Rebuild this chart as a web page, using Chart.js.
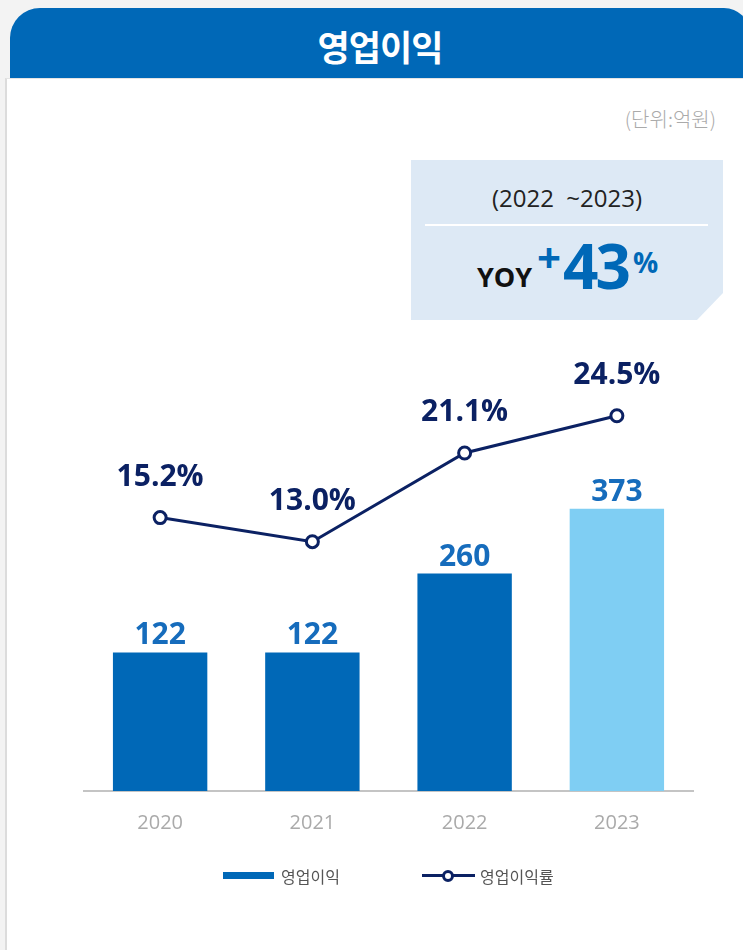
<!DOCTYPE html>
<html>
<head>
<meta charset="utf-8">
<script src="https://cdn.jsdelivr.net/npm/chart.js@4.4.0/dist/chart.umd.min.js"></script>
<style>
  html, body { margin: 0; padding: 0; }
  body {
    width: 743px; height: 950px; overflow: hidden; position: relative;
    background: #f3f3f3;
    font-family: "Open Sans", "Noto Sans CJK KR", sans-serif;
  }
  .header {
    position: absolute; left: 10px; top: 8px; width: 740px; height: 70px;
    background: #0068b7; border-radius: 30px 26px 0 0;
  }
  .header h1 {
    margin: 0; position: absolute; left: 0; width: 100%; top: 0; line-height: 76px;
    text-align: center; color: #fff; font-size: 35px; font-weight: 700;
    font-family: "Noto Sans CJK KR", sans-serif; letter-spacing: -1px;
  }
  .panel {
    position: absolute; left: 5px; top: 78px; width: 745px; height: 880px;
    background: #fff; border-left: 2px solid #dcdcdc; border-top: 1px solid #e4e4e4;
  }
  .unit {
    position: absolute; right: 27px; top: 104px; font-size: 20px; color: #aaa;
    font-family: "Noto Sans CJK KR", sans-serif; font-weight: 300;
  }
  .yoy {
    position: absolute; left: 411px; top: 160px; width: 312px; height: 160px;
    background: #dde9f5;
    clip-path: polygon(0 0, 100% 0, 100% 133px, 286px 100%, 0 100%);
  }
  .yoy .range {
    position: absolute; left: 0; width: 100%; top: 20px; text-align: center;
    font-size: 24px; color: #222; line-height: 36px;
  }
  .yoy .rule { position: absolute; left: 14px; width: 283px; top: 64px; height: 2px; background: #fff; }
  .yoy span { position: absolute; line-height: 1; font-weight: 700; }
  .legend { position: absolute; top: 864px; left: 0; width: 743px; height: 24px; font-size: 16px; color: #555; }
  .legend .item { position: absolute; top: 0; line-height: 24px; font-family: "Noto Sans CJK KR", sans-serif; }
  .sw-bar { position: absolute; top: 8px; width: 51px; height: 7px; background: #0068b7; }
  .sw-line { position: absolute; top: 10px; width: 53px; height: 3px; background: #0b2163; }
  .sw-dot { position: absolute; top: 6px; width: 6px; height: 6px; border: 3px solid #0b2163; background: #fff; border-radius: 50%; }
  #chartBox { position: absolute; left: 0; top: 330px; width: 743px; height: 540px; }
</style>
</head>
<body>
<div class="header"><h1>영업이익</h1></div>
<div class="panel"></div>
<div class="unit">(단위:억원)</div>

<div class="yoy">
  <div class="range">(2022&nbsp; ~2023)</div>
  <div class="rule"></div>
  <span style="left:66px; top:103px; font-size:27px; color:#111;">YOY</span>
  <span style="left:126px; top:76px; font-size:42px; color:#0068b7;">+</span>
  <span style="left:152px; top:74px; font-size:62px; color:#0068b7; letter-spacing:-3px;">43</span>
  <span style="left:222px; top:88px; font-size:28px; color:#0068b7;">%</span>
</div>

<div id="chartBox"><canvas id="profitChart" width="743" height="540"></canvas></div>

<div class="legend">
  <div class="sw-bar" style="left:223px;"></div>
  <div class="item" style="left:281px;">영업이익</div>
  <div class="sw-line" style="left:422px;"></div>
  <div class="sw-dot" style="left:442px;"></div>
  <div class="item" style="left:480px;">영업이익률</div>
</div>

<script>
    // data
    const years = ["2020", "2021", "2022", "2023"];
    const profit = [122, 122, 260, 373];
    const profitMargin = [15.2, 13.0, 21.1, 24.5];
    const barColors = ["#0068b7", "#0068b7", "#0068b7", "#7fcef3"];

    /*** Value labels above bars and points ***/
    const valueLabels = {
        id: "valueLabels",
        afterDatasetsDraw(chart) {
            const ctx = chart.ctx;
            ctx.save();
            ctx.textAlign = "center";
            ctx.textBaseline = "alphabetic";
            ctx.font = "bold 30px 'Open Sans'";

            ctx.fillStyle = "#166cbc";
            chart.getDatasetMeta(1).data.forEach((bar, i) => {
                ctx.fillText(String(profit[i]), bar.x, bar.y - 8);
            });

            ctx.fillStyle = "#0b2163";
            chart.getDatasetMeta(0).data.forEach((pt, i) => {
                ctx.fillText(profitMargin[i].toFixed(1) + "%", pt.x, pt.y - 32);
            });
            ctx.restore();
        }
    };

    new Chart(document.getElementById("profitChart"), {
        data: {
            labels: years,
            datasets: [
                {
                    type: "line",
                    label: "영업이익률",
                    data: profitMargin,
                    yAxisID: "y1",
                    order: 0,
                    borderColor: "#0b2163",
                    borderWidth: 3,
                    pointRadius: 6,
                    pointBorderWidth: 3,
                    pointBackgroundColor: "#fff",
                    pointBorderColor: "#0b2163",
                    tension: 0
                },
                {
                    type: "bar",
                    label: "영업이익",
                    data: profit,
                    yAxisID: "y",
                    order: 1,
                    base: -120,
                    backgroundColor: barColors,
                    borderWidth: 0,
                    categoryPercentage: 1,
                    barPercentage: 0.62
                }
            ]
        },
        options: {
            responsive: false,
            animation: false,
            layout: { padding: { left: 84, right: 50, top: 10, bottom: 29 } },
            plugins: { legend: { display: false }, tooltip: { enabled: false } },
            scales: {
                x: {
                    grid: { display: false, drawTicks: false },
                    border: { display: true, color: "#c4c4c4", width: 2 },
                    ticks: { color: "#aaa", font: { family: "'Open Sans'", size: 20 }, padding: 20 },
                    afterFit: scale => { scale.height = 50; }
                },
                y: { display: false, min: -120, max: 668 },
                y1: { display: false, position: "right", min: -9.77, max: 31.42 }
            }
        },
        plugins: [valueLabels]
    });
</script>
</body>
</html>
